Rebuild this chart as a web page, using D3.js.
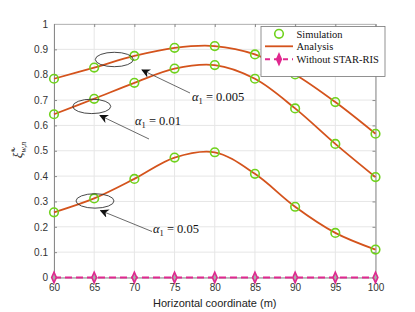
<!DOCTYPE html>
<html>
<head>
<meta charset="utf-8">
<script src="https://cdn.jsdelivr.net/npm/d3@7"></script>
<style>
  body { margin: 0; background: #fff; }
  svg { display: block; }
</style>
</head>
<body>
<div id="root"></div>
<script>
const xs = [60, 65, 70, 75, 80, 85, 90, 95, 100];
const alpha005 = [0.784, 0.828, 0.874, 0.906, 0.913, 0.880, 0.801, 0.692, 0.567];
const alpha01 = [0.644, 0.705, 0.768, 0.824, 0.838, 0.784, 0.667, 0.527, 0.396];
const alpha05 = [0.257, 0.312, 0.389, 0.473, 0.494, 0.409, 0.279, 0.176, 0.110];
const noStar = [0, 0, 0, 0, 0, 0, 0, 0, 0];
const yTicks = [0, 0.1, 0.2, 0.3, 0.4, 0.5, 0.6, 0.7, 0.8, 0.9, 1];
const xTicks = [60, 65, 70, 75, 80, 85, 90, 95, 100];
const legendLabels = ["Simulation", "Analysis", "Without STAR-RIS"];

const width = 415, height = 312;
const green = "#6fd21c", orange = "#d4531c", pink = "#e0288f";

const x = d3.scaleLinear().domain([60, 100]).range([54, 375.5]);
const y = d3.scaleLinear().domain([0, 1]).range([277.5, 24]);

const svg = d3.select("#root").append("svg")
  .attr("width", width)
  .attr("height", height);

// grid
svg.append("g").selectAll("line").data(yTicks).enter().append("line")
  .attr("x1", x(60)).attr("x2", x(100))
  .attr("y1", d => y(d)).attr("y2", d => y(d))
  .attr("stroke", "#e6e6e6");
svg.append("g").selectAll("line").data(xTicks).enter().append("line")
  .attr("y1", y(0)).attr("y2", y(1))
  .attr("x1", d => x(d)).attr("x2", d => x(d))
  .attr("stroke", "#e6e6e6");

// axes
const axL = svg.append("g").attr("transform", "translate(" + x(60) + ",0)")
  .call(d3.axisLeft(y).tickValues(yTicks).tickSize(-3).tickPadding(6).tickFormat(d3.format("~g")));
const axB = svg.append("g").attr("transform", "translate(0," + y(0) + ")")
  .call(d3.axisBottom(x).tickValues(xTicks).tickSize(-3).tickPadding(6));
const axR = svg.append("g").attr("transform", "translate(" + x(100) + ",0)")
  .call(d3.axisRight(y).tickValues(yTicks).tickSize(-3).tickFormat(""));
const axT = svg.append("g").attr("transform", "translate(0," + y(1) + ")")
  .call(d3.axisTop(x).tickValues(xTicks).tickSize(-3).tickFormat(""));
[axL, axB, axR, axT].forEach(a => {
  a.select(".domain").attr("stroke", "#8a8a8a");
  a.selectAll(".tick line").attr("stroke", "#8a8a8a");
  a.selectAll("text").attr("font-family", "Liberation Sans, Arial, sans-serif")
    .attr("font-size", 10).attr("fill", "#333");
});
axT.select(".domain").attr("stroke", "#bbb");

// curves
const line = d3.line().x((d, i) => x(xs[i])).y(d => y(d)).curve(d3.curveCatmullRom);
[alpha005, alpha01, alpha05].forEach(s => {
  svg.append("path").datum(s)
    .attr("d", line)
    .attr("fill", "none")
    .attr("stroke", orange)
    .attr("stroke-width", 1.8);
  svg.append("g").selectAll("circle").data(s).enter().append("circle")
    .attr("cx", (d, i) => x(xs[i]))
    .attr("cy", d => y(d))
    .attr("r", 4.3)
    .attr("fill", "none")
    .attr("stroke", green)
    .attr("stroke-width", 1.6);
});

// without STAR-RIS
const line0 = d3.line().x((d, i) => x(xs[i])).y(d => y(d));
svg.append("path").datum(noStar)
  .attr("d", line0)
  .attr("fill", "none")
  .attr("stroke", pink)
  .attr("stroke-width", 2)
  .attr("stroke-dasharray", "7,4");
const diamond = d3.symbol().type(d3.symbolDiamond).size(26);
svg.append("g").selectAll("path").data(noStar).enter().append("path")
  .attr("d", diamond)
  .attr("transform", (d, i) => "translate(" + x(xs[i]) + "," + y(d) + ") scale(0.85,1.1)")
  .attr("fill", "#aaa")
  .attr("stroke", pink)
  .attr("stroke-width", 1.8);

// annotations
const ellipses = [
  {cx: 67.5, cy: 0.86, label: "0.005", tx: 192, ty: 97, ax1: 190, ay1: 93, ax2: 142, ay2: 70},
  {cx: 64.7, cy: 0.675, label: "0.01", tx: 135, ty: 121, ax1: 149, ay1: 139, ax2: 100, ay2: 115.5},
  {cx: 65.1, cy: 0.302, label: "0.05", tx: 153, ty: 229, ax1: 152, ay1: 231.5, ax2: 100.5, ay2: 210.5}
];
svg.append("defs").append("marker")
  .attr("id", "arr").attr("viewBox", "0 0 10 10")
  .attr("refX", 9).attr("refY", 5)
  .attr("markerWidth", 9).attr("markerHeight", 9)
  .attr("markerUnits", "userSpaceOnUse")
  .attr("orient", "auto")
  .append("path").attr("d", "M0,0 L10,5 L0,10 L3,5 Z").attr("fill", "#111");

ellipses.forEach(e => {
  svg.append("ellipse")
    .attr("cx", x(e.cx)).attr("cy", y(e.cy))
    .attr("rx", 19).attr("ry", 7.2)
    .attr("fill", "none").attr("stroke", "#333").attr("stroke-width", 0.9);
  svg.append("line")
    .attr("x1", e.ax1).attr("y1", e.ay1)
    .attr("x2", e.ax2).attr("y2", e.ay2)
    .attr("stroke", "#444").attr("stroke-width", 0.8)
    .attr("marker-end", "url(#arr)");
  const t = svg.append("text")
    .attr("x", e.tx).attr("y", e.ty + 4)
    .attr("font-family", "Liberation Serif, serif")
    .attr("font-size", 12.5).attr("fill", "#111");
  t.append("tspan").attr("font-style", "italic").text("α");
  t.append("tspan").attr("font-size", 8.5).attr("dy", 3).text("1");
  t.append("tspan").attr("dy", -3).text(" = " + e.label);
});

// legend
const lg = svg.append("g");
lg.append("rect").attr("x", 261).attr("y", 26.5).attr("width", 124).attr("height", 50)
  .attr("fill", "#fff").attr("stroke", "#777").attr("stroke-width", 0.8);
const rows = [33.8, 46.3, 59.3];
lg.append("circle").attr("cx", 279).attr("cy", rows[0]).attr("r", 4.3)
  .attr("fill", "none").attr("stroke", green).attr("stroke-width", 1.6);
lg.append("line").attr("x1", 265).attr("x2", 293).attr("y1", rows[1]).attr("y2", rows[1])
  .attr("stroke", orange).attr("stroke-width", 1.8);
lg.append("line").attr("x1", 265).attr("x2", 293).attr("y1", rows[2]).attr("y2", rows[2])
  .attr("stroke", pink).attr("stroke-width", 2).attr("stroke-dasharray", "5,4");
lg.append("path").attr("d", diamond)
  .attr("transform", "translate(279," + rows[2] + ") scale(0.85,1.1)")
  .attr("fill", pink).attr("stroke", pink).attr("stroke-width", 1.8);
lg.selectAll("text.lab").data(legendLabels).enter().append("text")
  .attr("class", "lab")
  .attr("x", 296.5).attr("y", (d, i) => rows[i] + 3.8)
  .attr("font-family", "Liberation Serif, serif")
  .attr("font-size", 10.5).attr("fill", "#111")
  .text(d => d);

// axis labels
svg.append("text")
  .attr("x", x(80)).attr("y", 307)
  .attr("text-anchor", "middle")
  .attr("font-family", "Liberation Sans, Arial, sans-serif")
  .attr("font-size", 11).attr("fill", "#222")
  .text("Horizontal coordinate (m)");

const yl = svg.append("text")
  .attr("transform", "translate(22,150) rotate(-90)")
  .attr("text-anchor", "middle")
  .attr("font-family", "Liberation Serif, serif")
  .attr("font-size", 13).attr("fill", "#222");
yl.append("tspan").attr("font-style", "italic").text("ξ̃");
yl.append("tspan").attr("font-size", 8).attr("dy", -5).text("*");
yl.append("tspan").attr("font-size", 8).attr("dx", -4).attr("dy", 9).attr("font-style", "italic").text("w,n");
</script>
</body>
</html>
